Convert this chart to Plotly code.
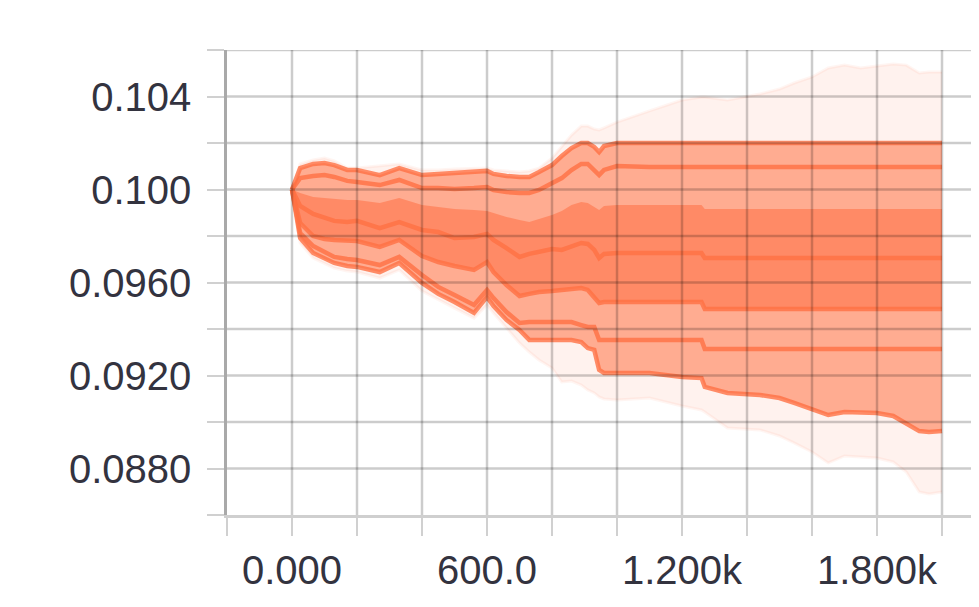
import plotly.graph_objects as go

# ---- data (steps and percentile values) ----
steps = [0, 25, 65, 100, 130, 170, 200, 270, 330, 400,
         450, 500, 560, 600, 620, 660, 700, 730, 760, 800,
         830, 860, 890, 910, 930, 945, 960, 1000, 1100, 1200,
         1260, 1270, 1340, 1440, 1500, 1545, 1600, 1650, 1700, 1750,
         1800, 1850, 1890, 1930, 1960, 2000]

p100 = [0.10000, 0.10110, 0.10127, 0.10135, 0.10123, 0.10092, 0.10092, 0.10101, 0.10110, 0.10084,
        0.10084, 0.10088, 0.10092, 0.10092, 0.10084, 0.10080, 0.10075, 0.10080, 0.10092, 0.10135,
        0.10187, 0.10234, 0.10273, 0.10273, 0.10260, 0.10256, 0.10265, 0.10290, 0.10338, 0.10385,
        0.10398, 0.10398, 0.10385, 0.10411, 0.10432, 0.10458, 0.10484, 0.10523, 0.10535, 0.10523,
        0.10531, 0.10540, 0.10535, 0.10501, 0.10505, 0.10505]

p93 = [0.10000, 0.10092, 0.10110, 0.10114, 0.10105, 0.10084, 0.10084, 0.10062, 0.10092, 0.10062,
       0.10067, 0.10071, 0.10075, 0.10080, 0.10067, 0.10058, 0.10054, 0.10054, 0.10075, 0.10105,
       0.10144, 0.10178, 0.10200, 0.10200, 0.10183, 0.10161, 0.10187, 0.10200, 0.10200, 0.10200,
       0.10200, 0.10200, 0.10200, 0.10200, 0.10200, 0.10200, 0.10200, 0.10200, 0.10200, 0.10200,
       0.10200, 0.10200, 0.10200, 0.10200, 0.10200, 0.10200]

p84 = [0.10000, 0.10049, 0.10058, 0.10062, 0.10054, 0.10037, 0.10032, 0.10019, 0.10041, 0.10006,
       0.10006, 0.10002, 0.10006, 0.10011, 0.09998, 0.09989, 0.09985, 0.09985, 0.09998, 0.10028,
       0.10049, 0.10084, 0.10110, 0.10110, 0.10084, 0.10062, 0.10084, 0.10101, 0.10097, 0.10097,
       0.10097, 0.10097, 0.10097, 0.10097, 0.10097, 0.10097, 0.10097, 0.10097, 0.10097, 0.10097,
       0.10097, 0.10097, 0.10097, 0.10097, 0.10097, 0.10097]

p69 = [0.10000, 0.09985, 0.09968, 0.09963, 0.09959, 0.09955, 0.09955, 0.09942, 0.09963, 0.09933,
       0.09925, 0.09916, 0.09912, 0.09908, 0.09899, 0.09882, 0.09869, 0.09860, 0.09873, 0.09890,
       0.09908, 0.09933, 0.09946, 0.09942, 0.09925, 0.09912, 0.09929, 0.09933, 0.09933, 0.09933,
       0.09933, 0.09916, 0.09916, 0.09916, 0.09916, 0.09916, 0.09916, 0.09916, 0.09916, 0.09916,
       0.09916, 0.09916, 0.09916, 0.09916, 0.09916, 0.09916]

p50 = [0.10000, 0.09929, 0.09895, 0.09877, 0.09865, 0.09860, 0.09865, 0.09834, 0.09860, 0.09826,
       0.09817, 0.09791, 0.09796, 0.09809, 0.09783, 0.09748, 0.09710, 0.09723, 0.09731, 0.09744,
       0.09740, 0.09757, 0.09770, 0.09766, 0.09740, 0.09705, 0.09723, 0.09727, 0.09727, 0.09727,
       0.09727, 0.09705, 0.09705, 0.09705, 0.09705, 0.09705, 0.09705, 0.09705, 0.09705, 0.09705,
       0.09705, 0.09705, 0.09705, 0.09705, 0.09705, 0.09705]

p31 = [0.10000, 0.09856, 0.09800, 0.09787, 0.09783, 0.09778, 0.09778, 0.09753, 0.09783, 0.09714,
       0.09688, 0.09671, 0.09654, 0.09688, 0.09645, 0.09589, 0.09542, 0.09551, 0.09559, 0.09563,
       0.09568, 0.09572, 0.09576, 0.09568, 0.09538, 0.09512, 0.09516, 0.09516, 0.09516, 0.09516,
       0.09516, 0.09486, 0.09486, 0.09486, 0.09486, 0.09486, 0.09486, 0.09486, 0.09486, 0.09486,
       0.09486, 0.09486, 0.09486, 0.09486, 0.09486, 0.09486]

p16 = [0.10000, 0.09813, 0.09757, 0.09731, 0.09710, 0.09701, 0.09697, 0.09675, 0.09710, 0.09632,
       0.09581, 0.09546, 0.09503, 0.09568, 0.09533, 0.09473, 0.09426, 0.09430, 0.09430, 0.09430,
       0.09430, 0.09430, 0.09417, 0.09409, 0.09409, 0.09353, 0.09353, 0.09353, 0.09353, 0.09353,
       0.09353, 0.09314, 0.09314, 0.09314, 0.09314, 0.09314, 0.09314, 0.09314, 0.09314, 0.09314,
       0.09314, 0.09314, 0.09314, 0.09314, 0.09314, 0.09314]

p7 = [0.10000, 0.09791, 0.09727, 0.09701, 0.09684, 0.09671, 0.09667, 0.09645, 0.09684, 0.09598,
      0.09551, 0.09516, 0.09469, 0.09538, 0.09499, 0.09439, 0.09396, 0.09353, 0.09353, 0.09353,
      0.09353, 0.09353, 0.09344, 0.09318, 0.09310, 0.09224, 0.09211, 0.09211, 0.09211, 0.09194,
      0.09189, 0.09151, 0.09125, 0.09116, 0.09103, 0.09082, 0.09056, 0.09030, 0.09043, 0.09043,
      0.09039, 0.09026, 0.08996, 0.08961, 0.08957, 0.08961]

p0 = [0.10000, 0.09770, 0.09705, 0.09680, 0.09662, 0.09649, 0.09645, 0.09619, 0.09654, 0.09563,
      0.09525, 0.09490, 0.09447, 0.09503, 0.09469, 0.09404, 0.09340, 0.09301, 0.09267, 0.09232,
      0.09172, 0.09176, 0.09159, 0.09138, 0.09125, 0.09108, 0.09099, 0.09095, 0.09103, 0.09069,
      0.09052, 0.09043, 0.08974, 0.08966, 0.08940, 0.08910, 0.08871, 0.08824, 0.08854, 0.08849,
      0.08845, 0.08828, 0.08785, 0.08699, 0.08690, 0.08699]

x_tick_vals = [-200, 0, 200, 400, 600, 800, 1000, 1200, 1400, 1600, 1800, 2000]
x_tick_text = ["", "0.000", "", "", "600.0", "", "", "1.200k", "", "", "1.800k", ""]
y_tick_vals = [0.086, 0.088, 0.090, 0.092, 0.094, 0.096, 0.098, 0.100, 0.102, 0.104, 0.106]
y_tick_text = ["", "0.0880", "", "0.0920", "", "0.0960", "", "0.100", "", "0.104", ""]

# ---- styling ----
BASE = "255,112,67"
def rgba(a):
    return f"rgba({BASE},{a})"

fig = go.Figure()

def band(lo, hi, alpha, edge_w=0, edge_a=0.0):
    fig.add_trace(go.Scatter(x=steps, y=lo, mode="lines",
                             line=dict(width=edge_w, color=rgba(edge_a)),
                             hoverinfo="skip", showlegend=False))
    fig.add_trace(go.Scatter(x=steps, y=hi, mode="lines", fill="tonexty",
                             fillcolor=rgba(alpha),
                             line=dict(width=edge_w, color=rgba(edge_a)),
                             hoverinfo="skip", showlegend=False))

band(p0, p100, 0.09, edge_w=3, edge_a=0.07)
band(p7, p93, 0.54)
band(p31, p69, 0.56)

for series in (p93, p84, p50, p31, p16, p7):
    fig.add_trace(go.Scatter(x=steps, y=series, mode="lines",
                             line=dict(width=4.5, color=rgba(0.8)),
                             hoverinfo="skip", showlegend=False))

# grid drawn above the data (as in the reference)
grid_color = "rgba(0,0,0,0.2)"
shapes = []
for xv in x_tick_vals[1:]:
    shapes.append(dict(type="line", xref="x", yref="paper", x0=xv, x1=xv, y0=0, y1=1,
                       line=dict(color=grid_color, width=2.5), layer="above"))
for yv in y_tick_vals[1:]:
    shapes.append(dict(type="line", xref="paper", yref="y", x0=0, x1=1, y0=yv, y1=yv,
                       line=dict(color=grid_color, width=2.5), layer="above"))

font_family = "Liberation Sans, Arial, sans-serif"
fig.update_layout(
    width=971, height=599,
    margin=dict(l=219, r=0, t=42, b=92),
    paper_bgcolor="white", plot_bgcolor="white",
    font=dict(family=font_family, size=40, color="#33333f"),
    shapes=shapes,
    showlegend=False,
)
fig.update_xaxes(range=[-200, 2113.8], tickmode="array", tickvals=x_tick_vals, ticktext=x_tick_text,
                 showgrid=False, zeroline=False, showline=True, linecolor="#cfcfcf", linewidth=3,
                 ticks="outside", ticklen=18, tickwidth=2, tickcolor="#d0d0d0",
                 ticklabelstandoff=0, layer="above traces")
fig.update_yaxes(range=[0.086, 0.106], tickmode="array", tickvals=y_tick_vals, ticktext=y_tick_text,
                 showgrid=False, zeroline=False, showline=True, linecolor="#a9a9a9", linewidth=2.5,
                 ticks="outside", ticklen=17, tickwidth=2, tickcolor="#d0d0d0",
                 ticklabelstandoff=8, layer="above traces")

fig.write_html("out.html")
